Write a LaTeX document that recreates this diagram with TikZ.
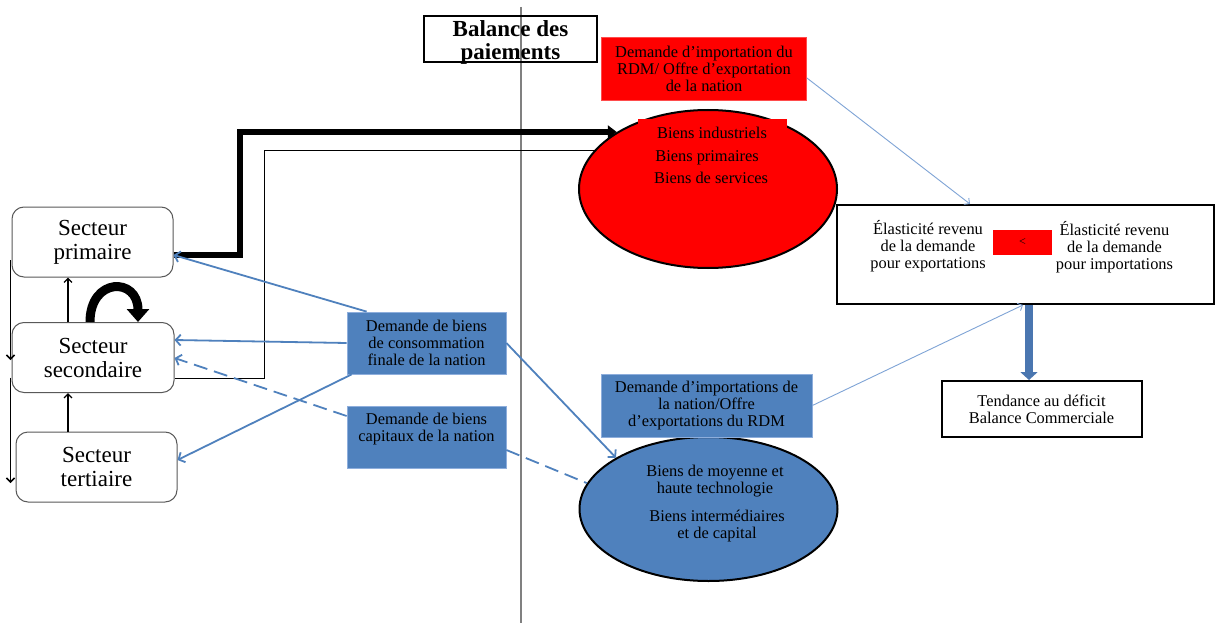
\documentclass[tikz,border=0pt]{standalone}
\usepackage{fontspec}
\setmainfont{Liberation Serif}
\usetikzlibrary{arrows.meta,shapes.geometric,backgrounds,calc}
\definecolor{bfill}{HTML}{4F81BD}
\definecolor{bedge}{HTML}{8EAEDC}
\definecolor{lblue}{HTML}{7FA4D6}
\definecolor{bthick}{HTML}{4A76B0}
\definecolor{sgray}{HTML}{595959}
\definecolor{vgray}{HTML}{808080}
\newcommand{\mytxt}{\fontsize{16.4}{17.2}\selectfont}
\newcommand{\mysect}{\fontsize{23}{24}\selectfont}
\begin{document}
\begin{tikzpicture}[x=1pt,y=-1pt,
  sector/.style={draw=sgray, line width=1pt, rounded corners=12pt, minimum width=161pt, minimum height=70pt, inner sep=0pt, align=center, font=\mysect},
  bluebox/.style={fill=bfill, draw=bedge, line width=0.8pt, inner sep=0pt, align=center, font=\mytxt},
  redbox/.style={fill=red, draw=red!70!white, line width=0.8pt, inner sep=0pt, align=center, font=\mytxt},
  plain/.style={inner sep=0pt, align=center, font=\mytxt},
  blackbox/.style={draw, line width=2pt, inner sep=0pt, align=center, font=\mytxt},
  bluearr/.style={draw=bfill, line width=1.8pt, -{Straight Barb[length=5pt,width=11pt]}},
  thinarr/.style={draw=lblue, line width=0.9pt, -{Straight Barb[length=4pt,width=8pt]}},
  blackarr/.style={line width=1.3pt, -{Straight Barb[length=4pt,width=8pt]}},
  dashblue/.style={dash pattern=on 14pt off 7pt}
]
\useasboundingbox (0,0) rectangle (1221,623);

% sector boxes
\node[sector] (prim) at (92.5,242) {Secteur\\primaire};
\node[sector, minimum width=162pt] (sec) at (93,357.5) {Secteur\\secondaire};
\node[sector, minimum height=70pt] (ter) at (96.5,467) {Secteur\\tertiaire};

% title
\node[draw, line width=2pt, minimum width=173pt, minimum height=46pt, inner sep=0pt] (bal) at (510.5,39.5) {};
\node[inner sep=0pt, align=center, font=\bfseries\fontsize{23}{23.5}\selectfont] (baltxt) at (510.5,42.5) {Balance des\\paiements};

% red top box
\node[redbox, minimum width=205pt, minimum height=63pt] (rbox) at (704,69)
  {Demande d’importation du\\RDM/ Offre d’exportation\\de la nation};

% red ellipse
\node[ellipse, draw, line width=2pt, fill=red, minimum width=258pt, minimum height=158pt, inner sep=0pt] (rell) at (708,189) {};
\node[fill=red, minimum width=149pt, minimum height=20pt, inner sep=0pt] (rtop) at (712.5,129.5) {};
\node[plain] (t1) at (712,133) {Biens industriels};
\node[plain] (t2) at (707,158) {Biens primaires};
\node[plain] (t3) at (711,178) {Biens de services};

% blue ellipse
\node[ellipse, draw, line width=2pt, fill=bfill, minimum width=258pt, minimum height=144pt, inner sep=0pt] (bell) at (708.5,509) {};
\node[plain] (b1) at (715,481) {Biens de moyenne et\\haute technologie};
\node[plain] (b2) at (717,526) {Biens intermédiaires\\et de capital};

% blue boxes
\node[bluebox, minimum width=159pt, minimum height=62pt] (dc) at (426.5,343)
  {Demande de biens\\de consommation\\finale de la nation};
\node[bluebox, minimum width=159pt, minimum height=62pt] (dk) at (426.5,437.5) {};
\node[plain] (dkt) at (426.5,429) {Demande de biens\\capitaux de la nation};
\node[bluebox, minimum width=211pt, minimum height=63pt] (di) at (706.5,405.5)
  {Demande d’importations de\\la nation/Offre\\d’exportations du RDM};

% elasticity box
\node[blackbox, minimum width=377pt, minimum height=99pt] (el) at (1025.5,254.5) {};
\node[plain] (elx) at (928,246) {Élasticité revenu\\de la demande\\pour exportations};
\node[fill=red, minimum width=59pt, minimum height=25pt, inner sep=0pt, font=\fontsize{12}{12}\selectfont] (lt) at (1022.5,242.5) {<};
\node[plain] (elm) at (1114.5,247) {Élasticité revenu\\de la demande\\pour importations};

% tendance box
\node[blackbox, minimum width=200pt, minimum height=56pt] (td) at (1041.5,409) {Tendance au déficit\\Balance Commerciale};

% helper coordinates
\coordinate (k1) at (240,0);
\coordinate (k2) at (264,151);
\coordinate (ux) at (68,0);
\coordinate (c1) at (90,0);
\coordinate (c2) at (138,0);
\coordinate (ax) at (1029,0);

\begin{scope}[on background layer]
  \fill[white] (0,0) rectangle (1221,623);
  \draw[vgray, line width=1.5pt] (521,7) -- (521,623);
  \draw[line width=1pt] ([yshift=-21pt]sec.east) -| (k2) -- (k2 -| rell.center);
\end{scope}

% thick black connector
\draw[line width=5.5pt, -{Triangle[length=9pt,width=13pt]}]
  ([yshift=-13pt]prim.east) -| (k1 |- rell.148) -- (rell.148);

% sector links
\draw[blackarr] (sec.north -| ux) -- (prim.south -| ux);
\draw[blackarr] (ter.north -| ux) -- (sec.south -| ux);
\draw[blackarr, line width=1.5pt] ([xshift=-1pt,yshift=-18pt]prim.west) -- ([xshift=-1pt,yshift=-2.5pt]sec.west);
\draw[blackarr, line width=1.5pt] ([xshift=-1pt,yshift=-20pt]sec.west) -- ($(sec.west |- ter.west)+(-1,16)$);
\draw[line width=9pt, -{Triangle[length=13pt,width=22pt]}]
  (sec.north -| c1) .. controls (90,277) and (138,277) .. (sec.north -| c2);

% blue connectors
\draw[bluearr] ([xshift=20pt]dc.north west) -- ([yshift=-13pt]prim.east);
\draw[bluearr] (dc.west) -- ([yshift=17.5pt]sec.east);
\draw[bluearr] ([xshift=5pt]dc.south west) -- ([yshift=7pt]ter.east);
\draw[bluearr, dashblue] ([yshift=21.5pt]dk.west) -- ([yshift=-0.5pt]sec.east);
\draw[bluearr] (dc.east) -- (bell.151);
\draw[draw=bfill, line width=1.8pt, dashblue] ([yshift=-12.5pt]dk.east) -- (bell.168);

% thin connectors to elasticity box
\draw[thinarr] ([yshift=-9pt]rbox.east) -- ([xshift=-55.5pt]el.north);
\draw[thinarr] (di.east) -- ([xshift=-2.5pt]el.south);

% thick blue arrow
\draw[bthick, line width=8pt, -{Triangle[length=8pt,width=17pt]}] (el.south -| ax) -- (td.north -| ax);
\end{tikzpicture}
\end{document}
